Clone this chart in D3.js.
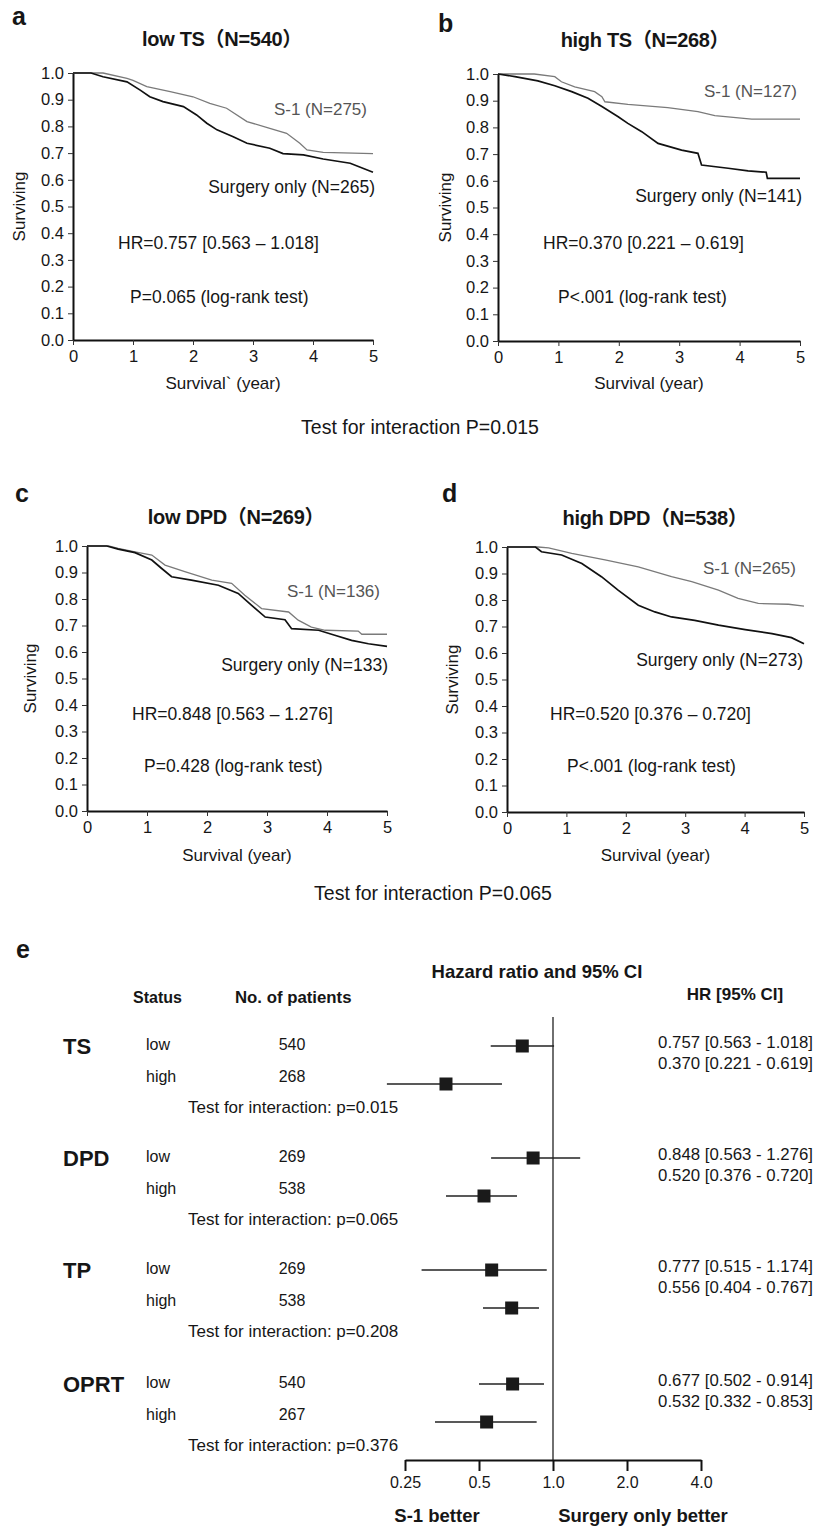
<!DOCTYPE html>
<html>
<head>
<meta charset="utf-8">
<script src="https://cdn.jsdelivr.net/npm/d3@7"></script>
<style>
body { margin: 0; background: #fff; }
svg text { font-family: "Liberation Sans", Arial, "Noto Sans CJK JP", sans-serif; fill: #161616; }
</style>
</head>
<body>
<div id="chart"></div>
<script>
// ---------- data : Kaplan-Meier panels ----------
const panelIds = ['a', 'b', 'c', 'd'];
const panelTitles = ['low TS（N=540）', 'high TS（N=268）', 'low DPD（N=269）', 'high DPD（N=538）'];
const s1Labels = ['S-1 (N=275)', 'S-1 (N=127)', 'S-1 (N=136)', 'S-1 (N=265)'];
const surgeryLabels = ['Surgery only (N=265)', 'Surgery only (N=141)', 'Surgery only (N=133)', 'Surgery only (N=273)'];
const hrTexts = ['HR=0.757 [0.563 – 1.018]', 'HR=0.370 [0.221 – 0.619]', 'HR=0.848 [0.563 – 1.276]', 'HR=0.520 [0.376 – 0.720]'];
const pTexts = ['P=0.065 (log-rank test)', 'P<.001 (log-rank test)', 'P=0.428 (log-rank test)', 'P<.001 (log-rank test)'];
const xTitles = ['Survival` (year)', 'Survival (year)', 'Survival (year)', 'Survival (year)'];
const yearTicks = [0, 1, 2, 3, 4, 5];
const survivingTicks = [0, 0.1, 0.2, 0.3, 0.4, 0.5, 0.6, 0.7, 0.8, 0.9, 1.0];
const interactionTexts = ['Test for interaction P=0.015', 'Test for interaction P=0.065'];

// [year, surviving]
const s1LowTS = [[0,1],[0.5,1],[0.9,0.98],[1.0,0.972],[1.23,0.949],[1.62,0.93],[2.0,0.911],[2.28,0.886],[2.56,0.868],[2.9,0.818],[3.28,0.793],[3.56,0.774],[3.78,0.737],[3.9,0.712],[4.17,0.703],[5,0.698]];
const surgLowTS = [[0,1],[0.3,1],[0.5,0.986],[0.9,0.967],[1.12,0.936],[1.28,0.911],[1.5,0.893],[1.84,0.874],[2.06,0.843],[2.23,0.812],[2.4,0.787],[2.67,0.761],[2.9,0.737],[3.28,0.718],[3.5,0.698],[3.84,0.693],[4.17,0.678],[4.62,0.662],[5,0.628]];
const s1HighTS = [[0,1],[0.6,1],[0.94,0.99],[1.05,0.971],[1.27,0.952],[1.6,0.934],[1.72,0.915],[1.77,0.896],[2.15,0.886],[2.81,0.874],[3.31,0.859],[3.59,0.844],[4.2,0.831],[5,0.831]];
const surgHighTS = [[0,1],[0.15,0.995],[0.28,0.99],[0.66,0.974],[0.94,0.956],[1.22,0.934],[1.49,0.909],[1.72,0.878],[1.99,0.84],[2.15,0.815],[2.38,0.784],[2.65,0.74],[3.04,0.715],[3.31,0.703],[3.37,0.659],[3.81,0.647],[4.14,0.637],[4.44,0.632],[4.46,0.609],[5,0.609]];
const s1LowDPD = [[0,1],[0.36,1],[0.52,0.991],[0.8,0.978],[1.08,0.966],[1.3,0.928],[1.63,0.903],[2.08,0.871],[2.41,0.859],[2.63,0.814],[2.91,0.764],[3.36,0.751],[3.52,0.72],[3.74,0.694],[3.97,0.682],[4.52,0.679],[4.58,0.667],[5,0.667]];
const surgLowDPD = [[0,1],[0.33,1],[0.52,0.988],[0.8,0.975],[1.08,0.947],[1.24,0.916],[1.41,0.884],[1.74,0.871],[2.19,0.852],[2.52,0.821],[2.74,0.777],[2.97,0.732],[3.3,0.722],[3.41,0.688],[3.86,0.682],[4.13,0.663],[4.41,0.644],[4.69,0.631],[5,0.621]];
const s1HighDPD = [[0,1],[0.52,1],[0.7,0.997],[1.09,0.976],[1.65,0.951],[2.21,0.925],[2.77,0.888],[3.11,0.869],[3.56,0.837],[3.89,0.806],[4.23,0.787],[4.74,0.784],[5,0.777]];
const surgHighDPD = [[0,1],[0.48,1],[0.58,0.982],[0.92,0.97],[1.26,0.938],[1.59,0.888],[1.87,0.837],[2.21,0.78],[2.49,0.755],[2.77,0.736],[3.16,0.723],[3.56,0.705],[4.01,0.688],[4.46,0.673],[4.79,0.658],[5,0.635]];

const s1Curves = [s1LowTS, s1HighTS, s1LowDPD, s1HighDPD];
const surgeryCurves = [surgLowTS, surgHighTS, surgLowDPD, surgHighDPD];

// ---------- data : forest plot ----------
const forestGroups = ['TS', 'DPD', 'TP', 'OPRT'];
const forestStatus = ['low', 'high'];
const forestN = [540, 268, 269, 538, 269, 538, 540, 267];
const forestHR = [0.75, 0.367, 0.83, 0.524, 0.563, 0.679, 0.685, 0.537];
const forestLo = [0.558, 0.211, 0.56, 0.367, 0.292, 0.519, 0.5, 0.331];
const forestHi = [1.01, 0.62, 1.29, 0.714, 0.943, 0.877, 0.919, 0.858];
const forestHRText = ['0.757 [0.563 - 1.018]', '0.370 [0.221 - 0.619]', '0.848 [0.563 - 1.276]', '0.520 [0.376 - 0.720]',
                      '0.777 [0.515 - 1.174]', '0.556 [0.404 - 0.767]', '0.677 [0.502 - 0.914]', '0.532 [0.332 - 0.853]'];
const interactionP = ['0.015', '0.065', '0.208', '0.376'];
const forestTicks = [0.25, 0.5, 1, 2, 4];
const forestTickText = ['0.25', '0.5', '1.0', '2.0', '4.0'];

// ---------- layout ----------
const W = 821, H = 1528;
const svg = d3.select('#chart').append('svg')
  .attr('width', W).attr('height', H)
  .style('background', '#fff');

const panels = [
  {x0: 73,  x1: 373, yTop: 73,  yBot: 340, lx: 12,  ly: 25,  tx: 222, ty: 46,  s1: [367, 115], sg: [375, 193], hr: [118, 249], p: [130, 303], ylx: 25,  xly: 389},
  {x0: 498, x1: 800, yTop: 74,  yBot: 341, lx: 438, ly: 32,  tx: 645, ty: 47,  s1: [797, 97],  sg: [802, 202], hr: [543, 249], p: [558, 303], ylx: 451, xly: 389},
  {x0: 87,  x1: 387, yTop: 546, yBot: 811, lx: 15,  ly: 502, tx: 236, ty: 524, s1: [380, 597], sg: [388, 671], hr: [132, 720], p: [144, 772], ylx: 36,  xly: 861},
  {x0: 507, x1: 804, yTop: 547, yBot: 812, lx: 442, ly: 502, tx: 655, ty: 525, s1: [796, 574], sg: [803, 666], hr: [550, 720], p: [567, 772], ylx: 458, xly: 861}
];

panels.forEach(function(p, i) {
  var x = d3.scaleLinear().domain([0, 5]).range([p.x0, p.x1]);
  var y = d3.scaleLinear().domain([0, 1]).range([p.yBot, p.yTop]);
  var g = svg.append('g');

  g.append('text').attr('x', p.lx).attr('y', p.ly)
    .style('font-size', '25px').style('font-weight', 'bold').text(panelIds[i]);
  g.append('text').attr('x', p.tx).attr('y', p.ty).attr('text-anchor', 'middle')
    .style('font-size', '20px').style('font-weight', 'bold').style('letter-spacing', '-0.3px').text(panelTitles[i]);

  var yAxis = d3.axisLeft(y).tickValues(survivingTicks).tickFormat(d3.format('.1f'))
    .tickSize(5).tickSizeOuter(0).tickPadding(4);
  var xAxis = d3.axisBottom(x).tickValues(yearTicks).tickFormat(d3.format('d'))
    .tickSize(5).tickSizeOuter(0).tickPadding(5);

  var ya = g.append('g').attr('transform', 'translate(' + p.x0 + ',0)').call(yAxis);
  var xa = g.append('g').attr('transform', 'translate(0,' + p.yBot + ')').call(xAxis);
  [ya, xa].forEach(function(a) {
    a.select('.domain').attr('stroke', '#111').attr('stroke-width', 2);
    a.selectAll('.tick line').attr('stroke', '#333').attr('stroke-width', 1);
    a.selectAll('.tick text').style('font-size', '16.5px').style('font-family', '"Liberation Sans", Arial, sans-serif').attr('fill', '#222');
  });

  g.append('text')
    .attr('transform', 'translate(' + p.ylx + ',' + ((p.yTop + p.yBot) / 2) + ') rotate(-90)')
    .attr('text-anchor', 'middle').style('font-size', '17px').text('Surviving');
  g.append('text').attr('x', (p.x0 + p.x1) / 2).attr('y', p.xly).attr('text-anchor', 'middle')
    .style('font-size', '17px').text(xTitles[i]);

  var line = d3.line().x(function(d) { return x(d[0]); }).y(function(d) { return y(d[1]); });
  g.append('path').datum(s1Curves[i]).attr('d', line)
    .attr('fill', 'none').attr('stroke', '#7a7a7a').attr('stroke-width', 1.3);
  g.append('path').datum(surgeryCurves[i]).attr('d', line)
    .attr('fill', 'none').attr('stroke', '#111').attr('stroke-width', 1.7);

  g.append('text').attr('x', p.s1[0]).attr('y', p.s1[1]).attr('text-anchor', 'end')
    .style('font-size', '17px').style('fill', '#555').text(s1Labels[i]);
  g.append('text').attr('x', p.sg[0]).attr('y', p.sg[1]).attr('text-anchor', 'end')
    .style('font-size', '17.5px').text(surgeryLabels[i]);
  g.append('text').attr('x', p.hr[0]).attr('y', p.hr[1])
    .style('font-size', '17.5px').text(hrTexts[i]);
  g.append('text').attr('x', p.p[0]).attr('y', p.p[1])
    .style('font-size', '17.5px').text(pTexts[i]);
});

svg.append('text').attr('x', 420).attr('y', 434).attr('text-anchor', 'middle')
  .style('font-size', '19.5px').text(interactionTexts[0]);
svg.append('text').attr('x', 433).attr('y', 900).attr('text-anchor', 'middle')
  .style('font-size', '19.5px').text(interactionTexts[1]);

// ---------- forest plot (e) ----------
var fx = d3.scaleLog().domain([0.25, 4]).range([405, 701]);
var axisY = 1460;
var groupBase = [1050, 1162, 1274, 1388];

svg.append('text').attr('x', 16).attr('y', 958)
  .style('font-size', '25px').style('font-weight', 'bold').text('e');
svg.append('text').attr('x', 537).attr('y', 978).attr('text-anchor', 'middle')
  .style('font-size', '18.5px').style('font-weight', 'bold').text('Hazard ratio and 95% CI');
svg.append('text').attr('x', 133).attr('y', 1003)
  .style('font-size', '16px').style('font-weight', 'bold').text('Status');
svg.append('text').attr('x', 235).attr('y', 1003)
  .style('font-size', '16.8px').style('font-weight', 'bold').text('No. of patients');
svg.append('text').attr('x', 735).attr('y', 1000).attr('text-anchor', 'middle')
  .style('font-size', '17px').style('font-weight', 'bold').text('HR [95% CI]');

forestGroups.forEach(function(name, gi) {
  var base = groupBase[gi];
  svg.append('text').attr('x', 63).attr('y', base + 4)
    .style('font-size', '22px').style('font-weight', 'bold').text(name);
  svg.append('text').attr('x', 188).attr('y', base + 63)
    .style('font-size', '17px').text('Test for interaction: p=' + interactionP[gi]);

  forestStatus.forEach(function(st, si) {
    var k = gi * 2 + si;
    var rowY = base + si * 32;
    var markY = si === 0 ? base - 4 : base + 34;
    svg.append('text').attr('x', 146).attr('y', rowY).style('font-size', '16px').text(st);
    svg.append('text').attr('x', 292).attr('y', rowY).attr('text-anchor', 'middle')
      .style('font-size', '16px').text(forestN[k]);
    svg.append('text').attr('x', 813).attr('y', base - 2 + si * 21).attr('text-anchor', 'end')
      .style('font-size', '16.8px').text(forestHRText[k]);

    svg.append('line')
      .attr('x1', fx(forestLo[k])).attr('x2', fx(forestHi[k]))
      .attr('y1', markY).attr('y2', markY)
      .attr('stroke', '#222').attr('stroke-width', 1.4);
    svg.append('rect')
      .attr('x', fx(forestHR[k]) - 6.5).attr('y', markY - 6.5)
      .attr('width', 13).attr('height', 13)
      .attr('fill', '#1a1a1a');
  });
});

svg.append('line')
  .attr('x1', fx(1)).attr('x2', fx(1)).attr('y1', 1017).attr('y2', axisY)
  .attr('stroke', '#222').attr('stroke-width', 1.3);

var fAxis = d3.axisBottom(fx).tickValues(forestTicks)
  .tickFormat(function(d, i) { return forestTickText[i]; })
  .tickSize(11).tickSizeOuter(0).tickPadding(6);
var fa = svg.append('g').attr('transform', 'translate(0,' + axisY + ')').call(fAxis);
fa.select('.domain').attr('stroke', '#111').attr('stroke-width', 2.2);
fa.selectAll('.tick line').attr('stroke', '#111').attr('stroke-width', 2);
fa.selectAll('.tick text').style('font-size', '16px')
  .style('font-family', '"Liberation Sans", Arial, sans-serif').attr('fill', '#222');

svg.append('text').attr('x', 437).attr('y', 1522).attr('text-anchor', 'middle')
  .style('font-size', '18.5px').style('font-weight', 'bold').text('S-1 better');
svg.append('text').attr('x', 643).attr('y', 1522).attr('text-anchor', 'middle')
  .style('font-size', '18.5px').style('font-weight', 'bold').text('Surgery only better');
</script>
</body>
</html>
